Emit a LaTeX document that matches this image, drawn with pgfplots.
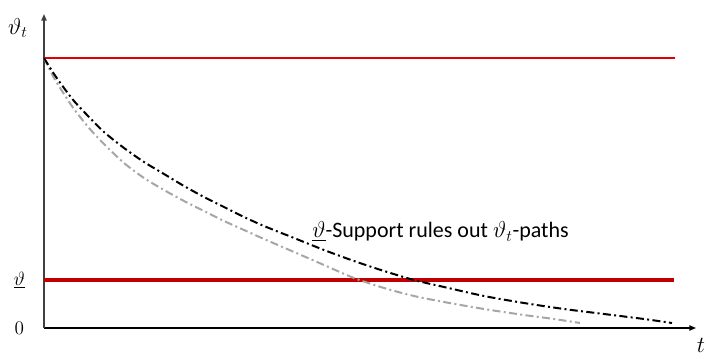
\documentclass[border=0pt]{standalone}
\usepackage{pgfplots}
\pgfplotsset{compat=1.18}
\usepackage{fontspec}
\setmainfont{Carlito}
\usetikzlibrary{arrows.meta}
\definecolor{topred}{HTML}{E00000}
\definecolor{lowred}{HTML}{C00000}
\definecolor{pathgray}{HTML}{A6A6A6}
\definecolor{axgray}{HTML}{404040}
\begin{document}
\begin{tikzpicture}
\useasboundingbox (-33pt,-21.75pt) rectangle (502.5pt,246pt);
\begin{axis}[
    anchor=origin, at={(0pt,0pt)},
    x=0.75pt, y=0.75pt,
    xmin=0, xmax=652,
    ymin=0, ymax=314,
    axis lines=left,
    axis line style={line width=1.1pt, -{Triangle[length=5pt,width=4pt]}},
    y axis line style={axgray},
    xtick=\empty,
    ytick={0,48},
    yticklabels={$0$,$\underline{\vartheta}$},
    major tick length=0pt,
    yticklabel style={anchor=center, xshift=-18.5pt, font=\fontsize{15}{17}\selectfont},
    clip=false,
    font=\fontsize{16.5}{18}\selectfont,
]
% upper bound
\addplot[topred, line width=1.1pt] coordinates {(0,270)(631,270)};
% lower support
\addplot[lowred, line width=3pt] coordinates {(0,48)(630,48)};
% grey path
\addplot[pathgray, line width=1.5pt, smooth,
    dash pattern=on 6pt off 2.5pt on 1.5pt off 2.5pt] coordinates {
    (0,270)(10,250)(20,234)(30,219)(45,200)(60,184)(80,165)(100,150)
    (120,138)(140,127)(160,117)(180,107)(200,98)(220,89)(250,76)(280,63)
    (310,50)(340,40)(370,32)(400,26)(440,19)(480,13)(510,9)(536,5)
};
% black path
\addplot[black, line width=1.5pt, smooth,
    dash pattern=on 6pt off 2.5pt on 1.5pt off 2.5pt] coordinates {
    (0,270)(10,254)(20,240)(30,227)(45,211)(60,196)(80,180)(100,166)
    (120,154)(140,142)(160,131)(180,121)(200,111)(220,102)(250,90)(280,78)
    (310,67)(340,57)(370,48)(400,41)(440,32)(480,25)(520,19)(560,14)
    (600,9)(628,5)
};
\node[anchor=base west, inner sep=0pt] at (axis cs:268,90)
    {\underline{$\vartheta$}-Support rules out $\vartheta_t$-paths};
\node at (axis cs:-26,300) {\fontsize{17}{19}\selectfont$\vartheta_t$};
\node[inner sep=0pt] at (axis cs:657,-17) {\fontsize{17}{19}\selectfont$t$};
\end{axis}
\end{tikzpicture}
\end{document}
